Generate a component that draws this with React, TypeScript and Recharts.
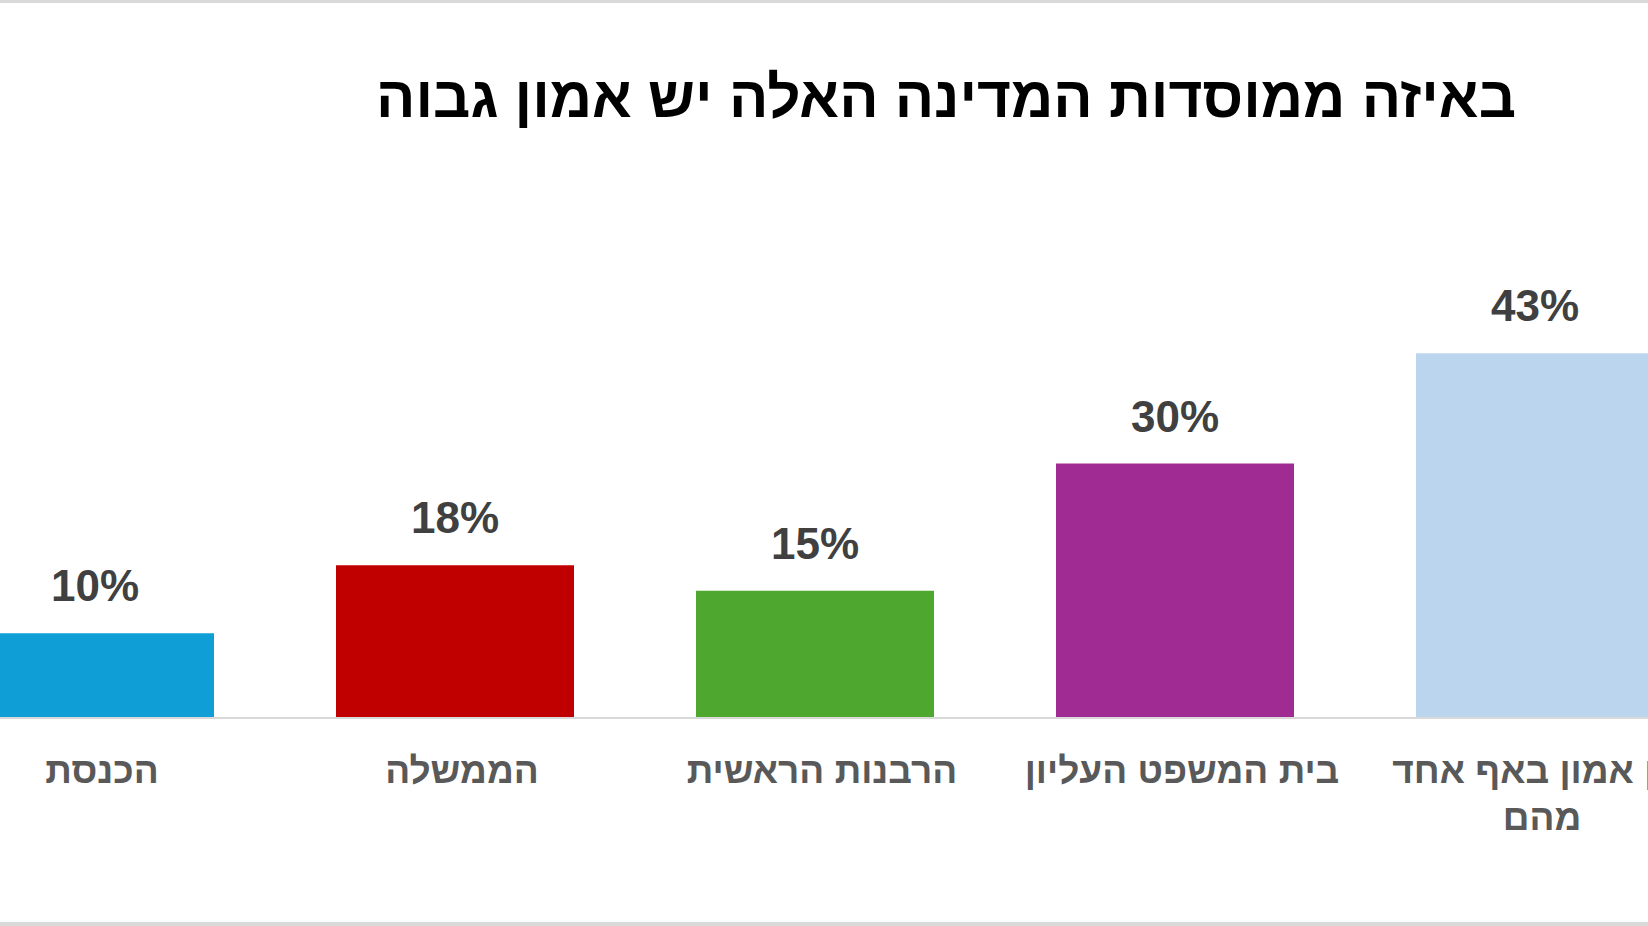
import React from 'react';
import { BarChart, Bar, XAxis, YAxis, LabelList, Cell } from 'recharts';

// categories listed left to right as in the picture
const categories = ['הכנסת', 'הממשלה', 'הרבנות הראשית', 'בית המשפט העליון', 'אין אמון באף אחד מהם'];
const trustValues = [10, 18, 15, 30, 43];
const barColors = ['#0F9ED5', '#C00000', '#4EA72E', '#A02B93', '#BCD5EE'];
const chartTitle = 'באיזה ממוסדות המדינה האלה יש אמון גבוה';

const data = categories.map((name, i) => ({ name, value: trustValues[i] }));

const FONT = '"Liberation Sans", Arimo, Arial, sans-serif';

const CategoryTick = (props: any) => {
  const { x, y, payload } = props;
  const label: string = payload.value;
  // the long last label wraps after the fourth word, as in the original
  const words = label.split(' ');
  const lines = words.length > 4 ? [words.slice(0, 4).join(' '), words.slice(4).join(' ')] : [label];
  return (
    <g>
      {lines.map((line, i) => (
        <text
          key={i}
          x={x + 7}
          y={y + 57 + i * 47}
          textAnchor="middle"
          fill="#595959"
          fontFamily={FONT}
          fontWeight="bold"
          fontSize={37}
        >
          {line}
        </text>
      ))}
    </g>
  );
};

const ValueLabel = (props: any) => {
  const { x, y, width, value } = props;
  return (
    <text
      x={x + width / 2}
      y={y - 32}
      textAnchor="middle"
      fill="#404040"
      fontFamily={FONT}
      fontWeight="bold"
      fontSize={44}
    >
      {`${value}%`}
    </text>
  );
};

export default function App() {
  return (
    <div style={{ position: 'absolute', left: 0, top: 0, width: 1648, height: 926, overflow: 'hidden', background: '#fff' }}>
      <div style={{ position: 'absolute', left: 0, top: 0, width: 1648, height: 3, background: '#d9d9d9' }} />
      <div style={{ position: 'absolute', left: 0, top: 922, width: 1648, height: 4, background: '#d9d9d9' }} />
      <svg width={1648} height={160} style={{ position: 'absolute', left: 0, top: 0 }}>
        <text
          x={946}
          y={117}
          textAnchor="middle"
          fontFamily={FONT}
          fontWeight="bold"
          fontSize={58}
          fill="#000"
          textLength={1140}
          lengthAdjust="spacingAndGlyphs"
        >
          {chartTitle}
        </text>
      </svg>
      <div style={{ position: 'absolute', left: -85, top: 0 }}>
        <BarChart width={1800} height={926} data={data} margin={{ top: 294, right: 0, left: 0, bottom: 148 }}>
          <XAxis
            dataKey="name"
            height={60}
            interval={0}
            axisLine={{ stroke: '#d9d9d9', strokeWidth: 2 }}
            tickLine={false}
            tick={<CategoryTick />}
          />
          <YAxis hide domain={[0, 50]} />
          <Bar dataKey="value" barSize={238} isAnimationActive={false}>
            {data.map((d, i) => (
              <Cell key={d.name} fill={barColors[i]} />
            ))}
            <LabelList dataKey="value" content={<ValueLabel />} />
          </Bar>
        </BarChart>
      </div>
    </div>
  );
}
